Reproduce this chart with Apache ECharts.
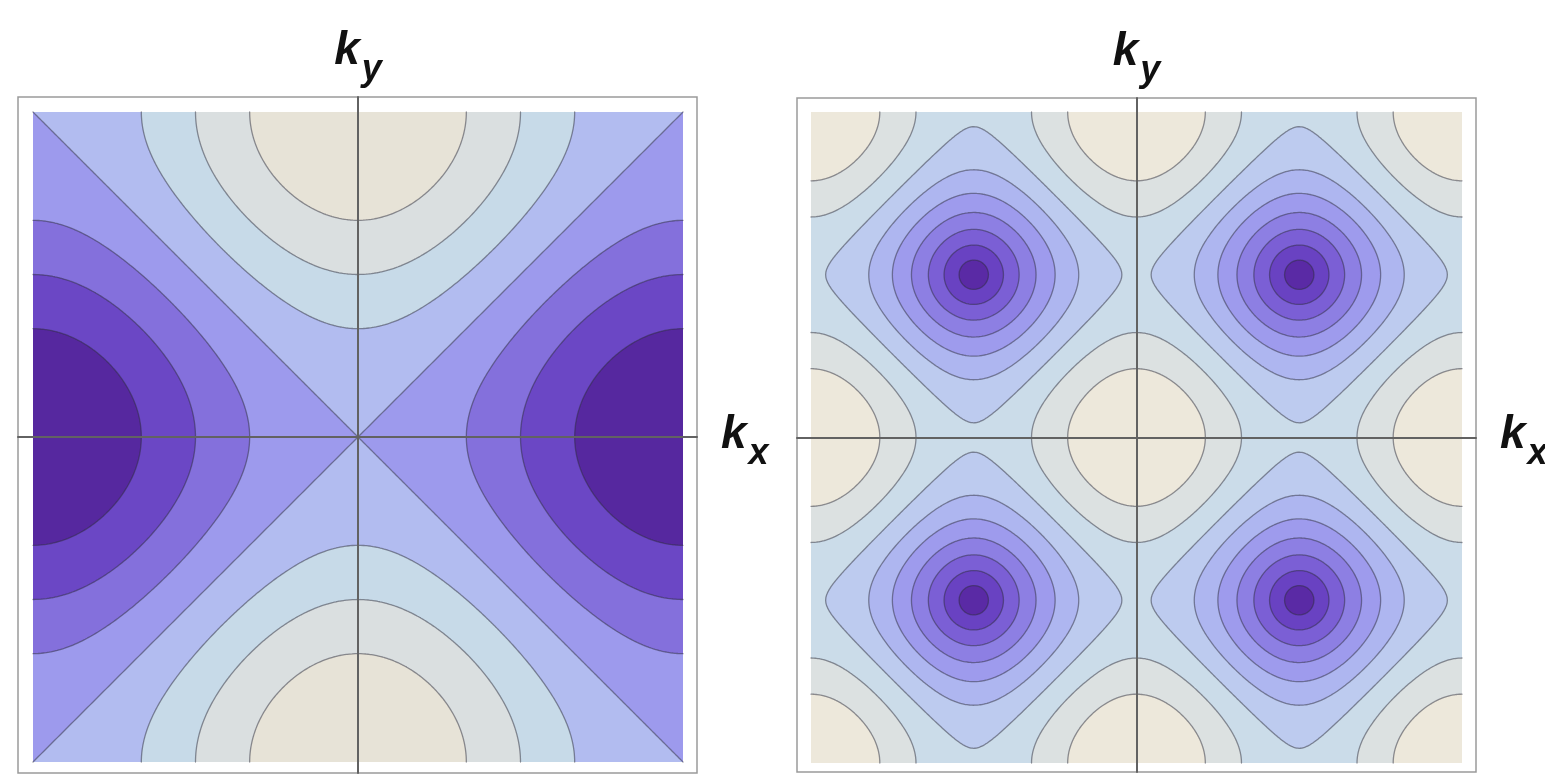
<!DOCTYPE html>
<html>
<head>
<meta charset="utf-8">
<script src="https://cdn.jsdelivr.net/npm/echarts@6/dist/echarts.min.js"></script>
<style>
  html, body { margin: 0; padding: 0; background: #ffffff; }
  #chart { width: 1545px; height: 775px; }
</style>
</head>
<body>
<div id="chart"></div>
<script>
// ---- contour levels and band colours of the two panels ----
// Left panel: cos kx - cos ky over the zone, bands from -2 to 2
const leftLevels = [-1.5, -1, -0.5, 0, 0.5, 1, 1.5];
const leftColors = ['#56289f', '#6b47c5', '#8470dc', '#9d9aed', '#b2bcf0', '#c7dae8', '#dadfe0', '#e7e3d7'];
// Right panel: sqrt((cos^2 kx + cos^2 ky) / 2), bands from 0 to 1
const rightLevels = [0.1, 0.2, 0.3, 0.4, 0.5, 0.6, 0.7, 0.8, 0.9];
const rightColors = ['#5a2aa5', '#6942c2', '#7b5fd5', '#8d7fe3', '#9e9bed', '#aeb6f0', '#bdcbef', '#cbdce9', '#dce1e1', '#ede8db'];
// axis titles (k with a subscript)
const axisSubscripts = { x: 'x', y: 'y' };

function leftField(kx, ky) { return Math.cos(kx) - Math.cos(ky); }
function rightField(kx, ky) {
  const a = Math.cos(kx), b = Math.cos(ky);
  return Math.sqrt((a * a + b * b) / 2);
}

// ---- isoband geometry (in k-space) on a triangulated grid ----
const N = 240;
const PI = Math.PI;

function buildContours(fn, levels) {
  const h = 2 * PI / N;
  const ks = [];
  for (let i = 0; i <= N; i++) ks.push(-PI + i * h);
  ks[0] = -PI; ks[N / 2] = 0; ks[N] = PI;
  const v = [];
  for (let j = 0; j <= N; j++) {
    const row = [];
    for (let i = 0; i <= N; i++) row.push(fn(ks[i], ks[j]));
    v.push(row);
  }
  const fills = [], lines = [];
  levels.forEach(L => {
    const polys = [], segs = [];
    const clip = (pts) => {
      const res = [], cross = [];
      let nin = 0;
      for (let k = 0; k < 3; k++) {
        const a = pts[k], b = pts[(k + 1) % 3];
        const ain = a[2] >= L, bin = b[2] >= L;
        if (ain) { res.push([a[0], a[1]]); nin++; }
        if (ain !== bin) {
          const t = (L - a[2]) / (b[2] - a[2]);
          const p = [a[0] + t * (b[0] - a[0]), a[1] + t * (b[1] - a[1])];
          res.push(p); cross.push(p);
        }
      }
      if (nin === 0) return;
      if (res.length >= 3) polys.push(res);
      if (cross.length === 2) {
        const dx = cross[0][0] - cross[1][0], dy = cross[0][1] - cross[1][1];
        if (dx * dx + dy * dy > 1e-14) segs.push(cross);
      }
    };
    for (let j = 0; j < N; j++) {
      let run = -1;
      for (let i = 0; i < N; i++) {
        const v00 = v[j][i], v10 = v[j][i + 1], v11 = v[j + 1][i + 1], v01 = v[j + 1][i];
        if (v00 >= L && v10 >= L && v11 >= L && v01 >= L) {
          if (run < 0) run = i;
          continue;
        }
        if (run >= 0) {
          polys.push([[ks[run], ks[j]], [ks[i], ks[j]], [ks[i], ks[j + 1]], [ks[run], ks[j + 1]]]);
          run = -1;
        }
        const p00 = [ks[i], ks[j], v00], p10 = [ks[i + 1], ks[j], v10];
        const p11 = [ks[i + 1], ks[j + 1], v11], p01 = [ks[i], ks[j + 1], v01];
        clip([p00, p10, p11]);
        clip([p00, p11, p01]);
      }
      if (run >= 0) {
        polys.push([[ks[run], ks[j]], [ks[N], ks[j]], [ks[N], ks[j + 1]], [ks[run], ks[j + 1]]]);
      }
    }
    fills.push(polys);
    lines.push(segs);
  });
  return { fills, lines };
}

const leftGeom = buildContours(leftField, leftLevels);
const rightGeom = buildContours(rightField, rightLevels);

// points on the zone boundary are snapped to whole pixels so stacked bands share a crisp edge
function toPathData(polys, api, closed) {
  const parts = [];
  for (const poly of polys) {
    for (let k = 0; k < poly.length; k++) {
      const q = poly[k];
      const p = api.coord(q);
      const px = Math.abs(q[0]) === PI ? Math.round(p[0]) : p[0];
      const py = Math.abs(q[1]) === PI ? Math.round(p[1]) : p[1];
      parts.push((k ? 'L' : 'M') + px.toFixed(2) + ' ' + py.toFixed(2));
    }
    if (closed) parts.push('Z');
  }
  return parts.join('');
}

function makeRenderer(geom, colors) {
  return function (params, api) {
    const children = [];
    const a = api.coord([-PI, -PI]), b = api.coord([PI, PI]);
    const x0 = Math.round(a[0]), x1 = Math.round(b[0]), y0 = Math.round(b[1]), y1 = Math.round(a[1]);
    children.push({ type: 'rect', shape: { x: x0, y: y0, width: x1 - x0, height: y1 - y0 },
      style: { fill: colors[0] } });
    geom.fills.forEach((polys, k) => {
      if (!polys.length) return;
      children.push({ type: 'path', shape: { pathData: toPathData(polys, api, true) },
        style: { fill: colors[k + 1] } });
    });
    geom.lines.forEach(segs => {
      if (!segs.length) return;
      children.push({ type: 'path', shape: { pathData: toPathData(segs, api, false) },
        style: { fill: null, stroke: 'rgba(45,45,60,0.5)', lineWidth: 1.3, lineCap: 'round', lineJoin: 'round' } });
    });
    return { type: 'group', children };
  };
}

// ---- layout: frame box and the shaded zone inside it ----
const panels = [
  { frame: { left: 18, top: 97, width: 679, height: 676 }, zone: { left: 33, top: 112, size: 650 },
    geom: leftGeom, colors: leftColors },
  { frame: { left: 797, top: 98, width: 679, height: 674 }, zone: { left: 811, top: 112, size: 651 },
    geom: rightGeom, colors: rightColors }
];

const fontFamily = '"Liberation Sans", Arial, sans-serif';
function axisTitle(sub) { return '{k|k}{s|' + sub + '}'; }
const titleRich = {
  k: { fontFamily, fontSize: 46, fontStyle: 'italic', fontWeight: 'bold', color: '#111', lineHeight: 50, verticalAlign: 'top' },
  s: { fontFamily, fontSize: 36, fontStyle: 'italic', fontWeight: 'bold', color: '#111', lineHeight: 36, padding: [24, 0, 0, 2], verticalAlign: 'top' }
};

const grids = [], xAxes = [], yAxes = [], series = [];
panels.forEach((p, idx) => {
  const f = p.frame, z = p.zone;
  const s = 2 * PI / z.size;
  grids.push({ left: f.left, top: f.top, width: f.width, height: f.height, show: true,
    backgroundColor: '#ffffff', borderColor: '#9a9a9a', borderWidth: 1.5,
    containLabel: false, outerBoundsMode: 'none' });
  const axisCommon = {
    type: 'value', gridIndex: idx, z: 10,
    axisLine: { show: true, onZero: true, lineStyle: { color: '#626262', width: 2 } },
    axisTick: { show: false }, axisLabel: { show: false }, splitLine: { show: false },
    nameLocation: 'end', nameTextStyle: { rich: titleRich }
  };
  xAxes.push(Object.assign({}, axisCommon, {
    min: -PI - (z.left - f.left) * s,
    max: PI + (f.left + f.width - z.left - z.size) * s,
    name: axisTitle(axisSubscripts.x), nameGap: 24
  }));
  yAxes.push(Object.assign({}, axisCommon, {
    min: -PI - (f.top + f.height - z.top - z.size) * s,
    max: PI + (z.top - f.top) * s,
    name: axisTitle(axisSubscripts.y), nameGap: 19
  }));
  series.push({
    type: 'custom', xAxisIndex: idx, yAxisIndex: idx, silent: true, z: 2,
    renderItem: makeRenderer(p.geom, p.colors),
    data: [[0, 0]]
  });
});

const chart = echarts.init(document.getElementById('chart'), null, { renderer: 'canvas' });
chart.setOption({
  animation: false,
  backgroundColor: '#ffffff',
  grid: grids, xAxis: xAxes, yAxis: yAxes, series
});
</script>
</body>
</html>
